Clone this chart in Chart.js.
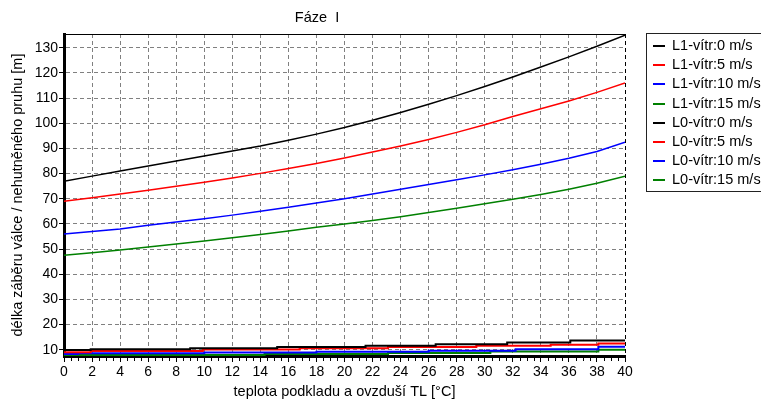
<!DOCTYPE html>
<html>
<head>
<meta charset="utf-8">
<script src="https://cdn.jsdelivr.net/npm/chart.js@4.4.1/dist/chart.umd.min.js"></script>
<style>
  html, body { margin: 0; padding: 0; background: #fff; }
  #wrap { position: relative; width: 761px; height: 401px; overflow: hidden; }
  #legend { position: absolute; left: 646px; top: 33px; width: 130px; height: 155px;
            border: 1px solid #222; padding: 2px 0 0 0; box-sizing: content-box;
            font-family: "Liberation Sans", Arial, sans-serif; font-size: 14.5px; color: #000; }
  .row { height: 19.2px; line-height: 19.2px; white-space: nowrap; position: relative; }
  .sw { position: absolute; left: 6px; top: 9px; width: 12px; height: 2px; }
  .lt { position: absolute; left: 25px; top: 0; }
</style>
</head>
<body>
<div id="wrap">
  <canvas id="c" width="761" height="401"></canvas>
  <div id="legend"></div>
</div>
<script>
// ---- data ----
const temps = [0,2,4,6,8,10,12,14,16,18,20,22,24,26,28,30,32,34,36,38,40];
const l1Wind0  = [77,79,81,83,85,87,89,91,93.3,95.7,98.3,101.2,104.3,107.6,111,114.6,118.4,122.4,126.4,130.6,135];
const l1Wind5  = [69,70.4,71.9,73.4,75,76.6,78.3,80.1,82,84,86.2,88.6,91,93.6,96.4,99.4,102.7,105.8,108.9,112.3,116];
const l1Wind10 = [56,57,58,59.5,60.8,62.1,63.5,65,66.6,68.3,70,71.9,73.8,75.7,77.6,79.5,81.5,83.7,86.1,88.8,92.5];
const l1Wind15 = [47.5,48.5,49.6,50.8,52,53.2,54.5,55.8,57.2,58.7,60,61.4,62.9,64.5,66.2,68,69.8,71.7,73.8,76.2,79];

// L0 series are step lines: temperature where each step starts, and its value
const l0Wind0T  = [0,1.9,9,15.2,21.5,26.5,31.6,36.1,40];
const l0Wind0V  = [9.9,10.2,10.6,11.1,11.6,12.2,12.9,13.7,13.7];
const l0Wind5T  = [0,1.9,9.9,16.8,23.1,29.4,34.7,38.1,40];
const l0Wind5V  = [9.0,9.5,10.1,10.6,11.1,11.6,12.0,12.5,12.5];
const l0Wind10T = [0,1.0,10,18,26,32.2,38.1,40];
const l0Wind10V = [8.3,8.6,8.9,9.2,9.6,10.2,11.2,11.2];
const l0Wind15T = [0,14.3,23.1,30.4,38.1,40];
const l0Wind15V = [7.9,8.3,8.7,9.3,10.0,10.0];

const seriesLabels = ['L1-vítr:0 m/s','L1-vítr:5 m/s','L1-vítr:10 m/s','L1-vítr:15 m/s',
                      'L0-vítr:0 m/s','L0-vítr:5 m/s','L0-vítr:10 m/s','L0-vítr:15 m/s'];
const yTicks = [10,20,30,40,50,60,70,80,90,100,110,120,130];

const chartTitle = 'Fáze  I';
const xTitle = 'teplota podkladu a ovzduší TL [°C]';
const yTitle = 'délka záběru válce / nehutněného pruhu [m]';

// ---- build ----
const FONT = '"Liberation Sans", Arial, sans-serif';
const colors = ['#000000','#ff0000','#0000ff','#008000'];
const pts = (xs, ys) => xs.map((x, i) => ({x: x, y: ys[i]}));

const l1 = [l1Wind0, l1Wind5, l1Wind10, l1Wind15];
const l0 = [[l0Wind0T,l0Wind0V],[l0Wind5T,l0Wind5V],[l0Wind10T,l0Wind10V],[l0Wind15T,l0Wind15V]];

const datasets = [];
l1.forEach((arr, i) => datasets.push({
  label: seriesLabels[i], data: pts(temps, arr), borderColor: colors[i], backgroundColor: colors[i],
  borderWidth: 1.5, pointRadius: 0, tension: 0, fill: false
}));
l0.forEach((p, i) => datasets.push({
  label: seriesLabels[4 + i], data: pts(p[0], p[1]), borderColor: colors[i], backgroundColor: colors[i],
  borderWidth: 2, pointRadius: 0, stepped: true, fill: false
}));

const framePlugin = {
  id: 'frame',
  beforeDatasetsDraw(chart) {
    const {ctx, chartArea: a} = chart;
    ctx.save();
    ctx.strokeStyle = '#000';
    ctx.lineWidth = 1;
    ctx.beginPath();
    ctx.moveTo(a.left, a.top + 0.5); ctx.lineTo(a.right + 0.5, a.top + 0.5);
    ctx.stroke();
    ctx.setLineDash([4, 3]);
    ctx.beginPath();
    ctx.moveTo(a.right + 0.5, a.top); ctx.lineTo(a.right + 0.5, a.bottom);
    ctx.stroke();
    ctx.restore();
  },
  afterDraw(chart) {
    const {ctx, chartArea: a, scales: {x}} = chart;
    ctx.save();
    ctx.strokeStyle = '#000';
    ctx.lineWidth = 1;
    ctx.beginPath();
    for (let v = 0.5; v < 40; v += 0.5) {
      if (v % 2 === 0) continue;
      const px = Math.round(x.getPixelForValue(v)) + 0.5;
      ctx.moveTo(px, a.bottom + 1.5); ctx.lineTo(px, a.bottom + 5);
    }
    ctx.stroke();
    ctx.restore();
  }
};

const tickFont = {family: FONT, size: 14};
const titleFont = {family: FONT, size: 14.5};

const chart = new Chart(document.getElementById('c'), {
  type: 'line',
  data: {datasets},
  plugins: [framePlugin],
  options: {
    responsive: false,
    animation: false,
    events: [],
    layout: {padding: {left: 9, right: 136, top: 0, bottom: 0}},
    plugins: {
      legend: {display: false},
      tooltip: {enabled: false},
      title: {display: true, text: chartTitle, color: '#000',
              font: {family: FONT, size: 14.5, weight: 'normal'},
              padding: {top: 9.3, bottom: 7.3}}
    },
    scales: {
      x: {
        type: 'linear', min: 0, max: 40,
        afterFit: s => { s.height = 45; },
        ticks: {stepSize: 2, autoSkip: false, maxRotation: 0, color: '#000', font: tickFont, padding: 2},
        grid: {color: '#808080', lineWidth: 1, tickColor: '#000', tickLength: 6, tickWidth: 1, tickBorderDash: []},
        border: {color: '#000', width: 3, dash: [4, 3]},
        title: {display: true, text: xTitle, color: '#000', font: titleFont, padding: {top: 0, bottom: 0}}
      },
      y: {
        type: 'linear', min: 7.5, max: 135.5,
        afterBuildTicks: s => { s.ticks = yTicks.map(v => ({value: v})); },
        afterFit: s => { s.width = 55; },
        ticks: {color: '#000', font: tickFont, padding: 1},
        grid: {color: '#808080', lineWidth: 1, tickColor: '#000', tickLength: 5, tickWidth: 1, tickBorderDash: []},
        border: {color: '#000', width: 3, dash: [4, 3]},
        title: {display: true, text: yTitle, color: '#000', font: titleFont, padding: {top: 0.3, bottom: 0}}
      }
    }
  }
});

// legend built from the chart's datasets
const leg = document.getElementById('legend');
chart.data.datasets.forEach(ds => {
  const row = document.createElement('div'); row.className = 'row';
  const sw = document.createElement('span'); sw.className = 'sw'; sw.style.background = ds.borderColor;
  const lt = document.createElement('span'); lt.className = 'lt'; lt.textContent = ds.label;
  row.appendChild(sw); row.appendChild(lt); leg.appendChild(row);
});
</script>
</body>
</html>
